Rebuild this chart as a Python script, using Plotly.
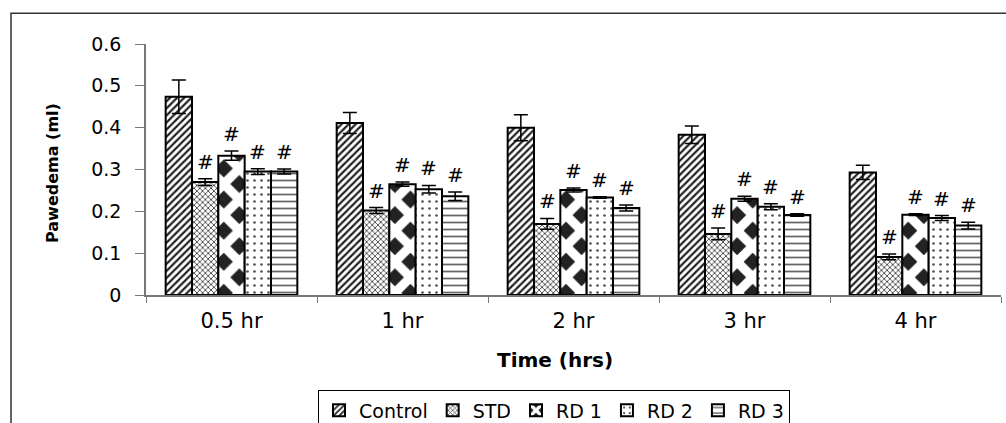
import plotly.graph_objects as go

categories = ["0.5 hr", "1 hr", "2 hr", "3 hr", "4 hr"]
series_names = ["Control", "STD", "RD 1", "RD 2", "RD 3"]

control = [0.474, 0.411, 0.400, 0.383, 0.293]
control_err = [0.040, 0.025, 0.031, 0.021, 0.017]
std = [0.270, 0.202, 0.170, 0.146, 0.091]
std_err = [0.008, 0.007, 0.013, 0.014, 0.007]
rd1 = [0.333, 0.265, 0.251, 0.230, 0.192]
rd1_err = [0.011, 0.005, 0.005, 0.006, 0.002]
rd2 = [0.295, 0.253, 0.233, 0.211, 0.184]
rd2_err = [0.007, 0.009, 0.002, 0.007, 0.006]
rd3 = [0.295, 0.236, 0.208, 0.191, 0.166]
rd3_err = [0.006, 0.010, 0.007, 0.003, 0.008]

# which series carry the "#" significance mark
significant = [False, True, True, True, True]

y_ticks = [0, 0.1, 0.2, 0.3, 0.4, 0.5, 0.6]
y_tick_labels = ["0", "0.1", "0.2", "0.3", "0.4", "0.5", "0.6"]

values = [control, std, rd1, rd2, rd3]
errors = [control_err, std_err, rd1_err, rd2_err, rd3_err]

patterns = [
    dict(shape="/", fgcolor="#222222", bgcolor="white", size=5, solidity=0.45),
    dict(shape="x", fgcolor="#444444", bgcolor="white", size=4, solidity=0.4),
    dict(shape="x", fgcolor="white", bgcolor="#222222", size=22, solidity=0.66),
    dict(shape=".", fgcolor="#555555", bgcolor="white", size=7, solidity=0.12),
    dict(shape="-", fgcolor="#666666", bgcolor="white", size=7, solidity=0.25),
]
for p in patterns:
    p.update(fgopacity=1, fillmode="replace")

FONT = "'DejaVu Sans', sans-serif"

fig = go.Figure()
for name, vals, errs, pat in zip(series_names, values, errors, patterns):
    fig.add_trace(go.Bar(
        name=name, x=categories, y=vals,
        marker=dict(color="white", line=dict(color="black", width=2), pattern=pat),
        error_y=dict(type="data", array=errs, visible=True, color="black",
                     thickness=1.5, width=7),
    ))

bargap = 0.23
bar_w = (1 - bargap) / len(series_names)
annotations = []
for j, (vals, errs, sig) in enumerate(zip(values, errors, significant)):
    if not sig:
        continue
    for i, (v, e) in enumerate(zip(vals, errs)):
        annotations.append(dict(
            x=i + (j - 2) * bar_w, y=v + e, xref="x", yref="y",
            text="#", showarrow=False, yanchor="bottom", yshift=3,
            font=dict(family=FONT, size=20, color="black"),
        ))

# axis titles placed as annotations
annotations.append(dict(
    x=(53 - 146) / 855, y=(295.3 - 173) / 251.6, xref="paper", yref="paper",
    xanchor="center", yanchor="middle",
    text="<b>Pawedema (ml)</b>", textangle=-90, showarrow=False,
    font=dict(family=FONT, size=16, color="black"),
))
annotations.append(dict(
    x=(555 - 146) / 855, y=(295.3 - 360) / 251.6, xref="paper", yref="paper",
    xanchor="center", yanchor="middle",
    text="<b>Time (hrs)</b>", showarrow=False,
    font=dict(family=FONT, size=20, color="black"),
))

fig.update_layout(
    width=1006, height=423,
    margin=dict(l=146, r=5, t=44, b=128, autoexpand=False),
    paper_bgcolor="white", plot_bgcolor="white",
    barmode="group", bargap=bargap, bargroupgap=0,
    font=dict(family=FONT, size=16, color="black"),
    showlegend=True,
    legend=dict(
        orientation="h", x=(318 - 146) / 855, xanchor="left",
        y=(295.3 - 391) / 251.6, yanchor="top",
        bgcolor="white", bordercolor="black", borderwidth=1,
        font=dict(family=FONT, size=19, color="black"),
        itemwidth=30, traceorder="normal",
    ),
    annotations=annotations,
    shapes=[dict(type="rect", xref="paper", yref="paper",
                 x0=(11 - 146) / 855, x1=1.2, y0=-1.0, y1=(295.3 - 13) / 251.6,
                 line=dict(color="#333333", width=1.5), fillcolor="rgba(0,0,0,0)",
                 layer="below")],
)
fig.update_xaxes(
    showline=True, linecolor="#777777", linewidth=1.5,
    ticks="outside", tickson="boundaries", ticklen=6, tickcolor="#777777",
    showgrid=False, tickfont=dict(family=FONT, size=21, color="black"),
    ticklabelstandoff=6,
)
fig.update_yaxes(
    range=[0, 0.6], tickvals=y_ticks, ticktext=y_tick_labels,
    showline=True, linecolor="#777777", linewidth=1.5,
    ticks="outside", ticklen=9, tickcolor="#777777",
    showgrid=False, zeroline=False,
    tickfont=dict(family=FONT, size=19, color="black"),
    ticklabelstandoff=10,
)

fig.write_html("out.html")
